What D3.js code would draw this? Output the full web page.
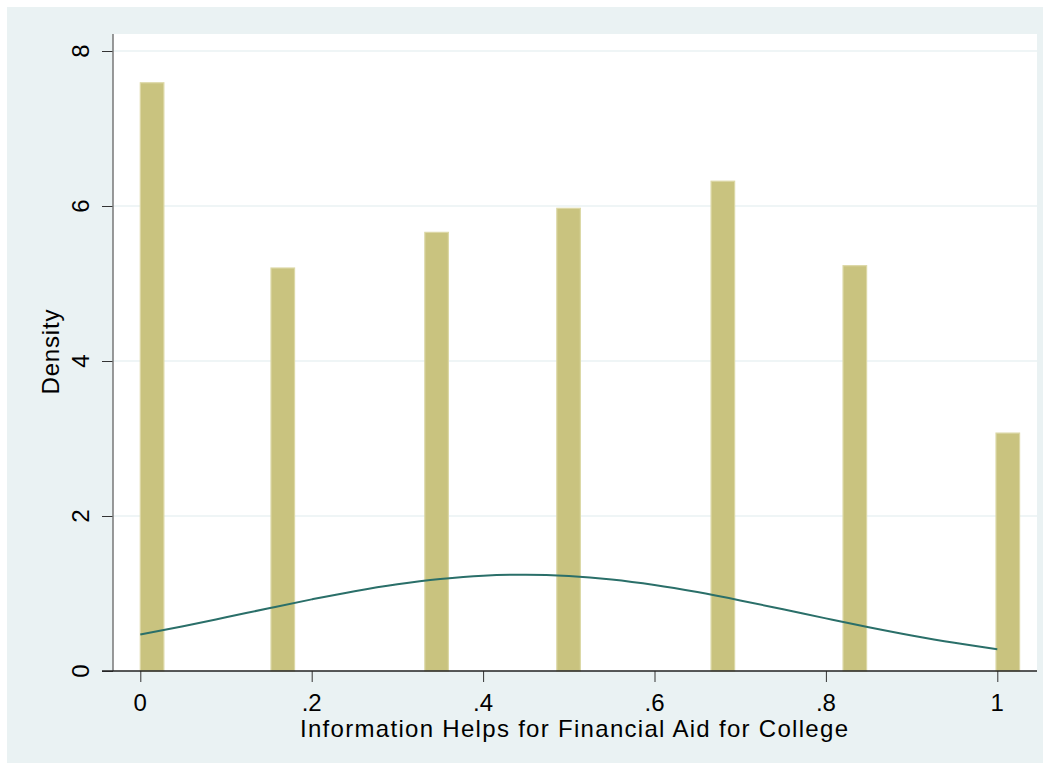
<!DOCTYPE html>
<html>
<head>
<meta charset="utf-8">
<script src="https://cdn.jsdelivr.net/npm/d3@7"></script>
<style>
  body { margin: 0; background: #ffffff; }
  text { font-family: "Liberation Sans", Arial, sans-serif; fill: #000; }
</style>
</head>
<body>
<div id="chart"></div>
<script>
// histogram bins (left edge) and densities
var binStart = [0, 0.1525, 0.332, 0.486, 0.666, 0.820, 0.9985];
var density = [7.59, 5.20, 5.66, 5.97, 6.32, 5.23, 3.07];
var binWidth = 0.0275;

// overlaid normal density curve
var curveX = [0, 0.05, 0.1, 0.15, 0.2, 0.25, 0.3, 0.35, 0.4, 0.45, 0.5,
              0.55, 0.6, 0.65, 0.7, 0.75, 0.8, 0.85, 0.9, 0.95, 1];
var curveY = [0.471, 0.578, 0.693, 0.810, 0.924, 1.030, 1.119, 1.187, 1.230, 1.243, 1.226,
              1.181, 1.110, 1.018, 0.911, 0.796, 0.679, 0.565, 0.459, 0.364, 0.282];

var xTicks = [0, 0.2, 0.4, 0.6, 0.8, 1];
var xTickLabels = ["0", ".2", ".4", ".6", ".8", "1"];
var yTicks = [0, 2, 4, 6, 8];

var width = 1050, height = 770;
var plot = { left: 113, right: 1037, top: 34, bottom: 671 };

var svg = d3.select("#chart").append("svg")
  .attr("width", width)
  .attr("height", height);

// outer graph region
svg.append("rect")
  .attr("x", 7).attr("y", 7)
  .attr("width", width - 14).attr("height", height - 14)
  .attr("fill", "#eaf2f3");

// plot region
svg.append("rect")
  .attr("x", plot.left).attr("y", plot.top)
  .attr("width", plot.right - plot.left).attr("height", plot.bottom - plot.top)
  .attr("fill", "#ffffff");

var x = d3.scaleLinear().domain([0, 1]).range([140.3, 997.3]);
var y = d3.scaleLinear().domain([0, 8]).range([plot.bottom, 51]);

// gridlines
svg.append("g")
  .selectAll("line")
  .data(yTicks.filter(d => d > 0))
  .enter().append("line")
  .attr("x1", plot.left).attr("x2", plot.right)
  .attr("y1", d => y(d)).attr("y2", d => y(d))
  .attr("stroke", "#eaf2f3")
  .attr("stroke-width", 1.5);

// bars
svg.append("g")
  .selectAll("rect")
  .data(binStart)
  .enter().append("rect")
  .attr("x", d => x(d))
  .attr("y", (d, i) => y(density[i]))
  .attr("width", x(binWidth) - x(0))
  .attr("height", (d, i) => y(0) - y(density[i]))
  .attr("fill", "#c9c37f")
  .attr("stroke", "#dcd8a6")
  .attr("stroke-width", 1.2);

// normal density line
var line = d3.line()
  .x(d => x(d[0]))
  .y(d => y(d[1]))
  .curve(d3.curveMonotoneX);

svg.append("path")
  .datum(curveX.map((d, i) => [d, curveY[i]]))
  .attr("d", line)
  .attr("fill", "none")
  .attr("stroke", "#2a6f69")
  .attr("stroke-width", 2);

// y axis
var yAxis = svg.append("g")
  .attr("transform", "translate(" + plot.left + ",0)")
  .call(d3.axisLeft(y).tickValues(yTicks).tickSize(11).tickFormat(""));
yAxis.select(".domain").remove();
yAxis.selectAll(".tick line").attr("stroke", "#333");
yAxis.append("line")
  .attr("x1", 0).attr("x2", 0)
  .attr("y1", plot.top).attr("y2", plot.bottom)
  .attr("stroke", "#777").attr("stroke-width", 1.5);

svg.append("g")
  .selectAll("text")
  .data(yTicks)
  .enter().append("text")
  .attr("transform", d => "translate(89," + y(d) + ") rotate(-90)")
  .attr("text-anchor", "middle")
  .style("font-size", "24px")
  .text(d => d);

// x axis
var xAxis = svg.append("g")
  .attr("transform", "translate(0," + plot.bottom + ")")
  .call(d3.axisBottom(x).tickValues(xTicks).tickSize(11).tickFormat(""));
xAxis.select(".domain").remove();
xAxis.selectAll(".tick line").attr("stroke", "#333");
xAxis.append("line")
  .attr("x1", plot.left - 11).attr("x2", plot.right)
  .attr("y1", 0).attr("y2", 0)
  .attr("stroke", "#222").attr("stroke-width", 1.5);

svg.append("g")
  .selectAll("text")
  .data(xTicks)
  .enter().append("text")
  .attr("x", d => x(d))
  .attr("y", 711)
  .attr("text-anchor", "middle")
  .style("font-size", "24px")
  .text((d, i) => xTickLabels[i]);

// axis titles
svg.append("text")
  .attr("x", 574).attr("y", 737)
  .attr("text-anchor", "middle")
  .attr("textLength", 548)
  .attr("lengthAdjust", "spacing")
  .style("font-size", "24px")
  .text("Information Helps for Financial Aid for College");

svg.append("text")
  .attr("transform", "translate(59,352) rotate(-90)")
  .attr("text-anchor", "middle")
  .attr("textLength", 85)
  .attr("lengthAdjust", "spacing")
  .style("font-size", "24px")
  .text("Density");
</script>
</body>
</html>
